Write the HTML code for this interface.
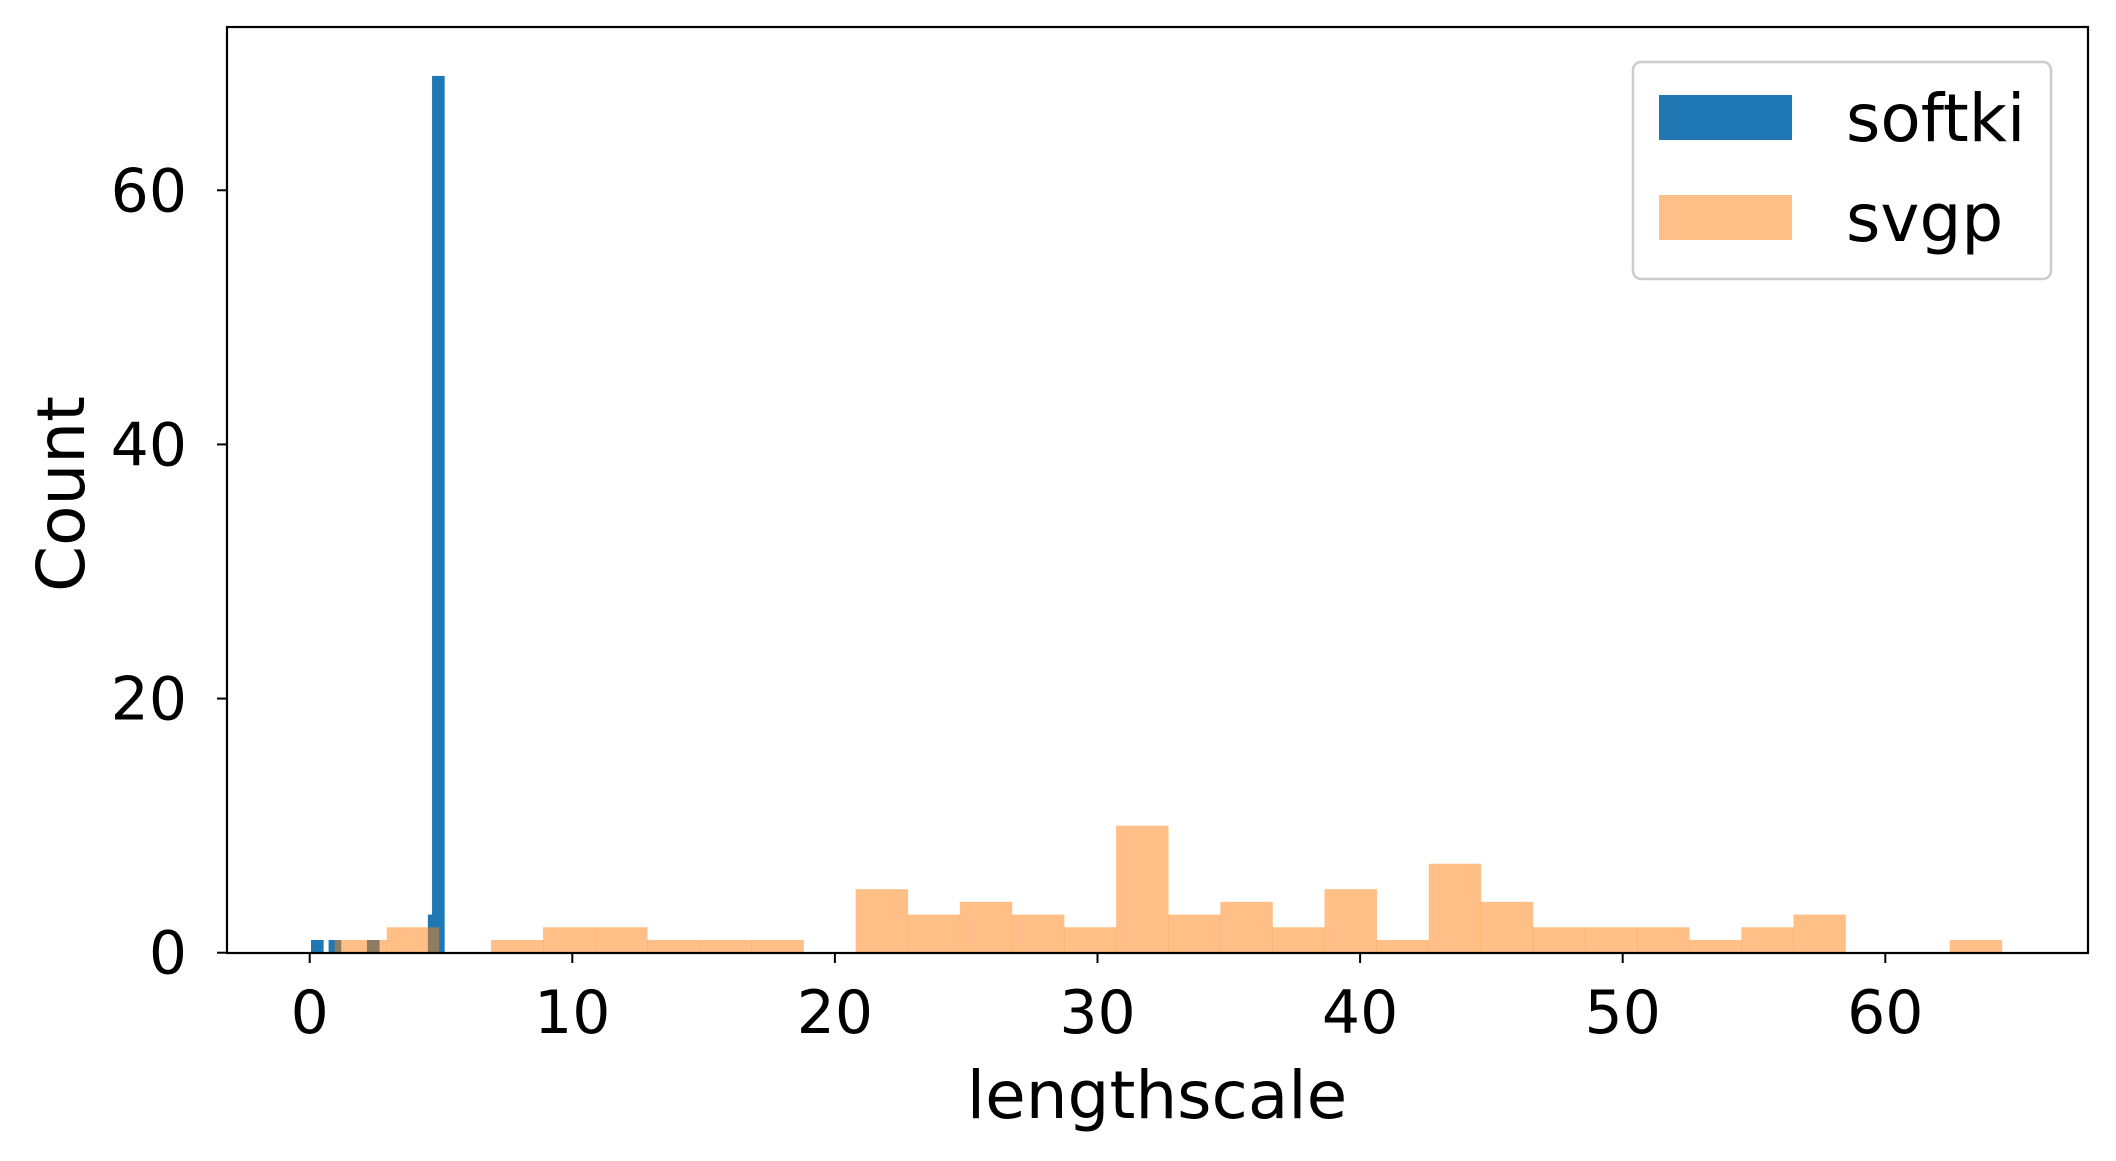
<!DOCTYPE html>
<html><head><meta charset="utf-8"><style>
html,body{margin:0;padding:0;background:#fff;}
svg{display:block;font-family:"DejaVu Sans","Liberation Sans",sans-serif;}
</style></head><body>
<svg id="chart" width="2116" height="1161" xmlns="http://www.w3.org/2000/svg">
<g id="bars"></g>
<g id="axes"></g>
<g id="legend">
<rect x="1633" y="62" width="418" height="217" rx="8" fill="#fff" fill-opacity="0.8" stroke="#ccc" stroke-width="2.5"/>
<rect x="1659" y="95" width="133" height="45" fill="#1f77b4"/>
<text x="1846" y="141" font-size="66">softki</text>
<rect x="1659" y="195" width="133" height="45" fill="#ff7f0e" fill-opacity="0.5"/>
<text x="1846" y="241" font-size="66">svgp</text>
</g>
</svg>
<script>
const softkiLefts = [0.05, 0.72, 2.18, 4.5, 4.66];
const softkiCounts = [1, 1, 1, 3, 69];
const softkiWidth = 0.48;
const svgpStart = 0.95;
const svgpWidth = 1.984;
const svgpCounts = [1,2,0,1,2,2,1,1,1,0,5,3,4,3,2,10,3,4,2,5,1,7,4,2,2,2,1,2,3,0,0,1];
const xTicks = [0,10,20,30,40,50,60];
const yTicks = [0,20,40,60];

const L=227,R=2088,T=27,B=953;
const xs=v=>309.7+v*26.26;
const ys=v=>952.7-v*12.707;
const NS="http://www.w3.org/2000/svg";
const bars=document.getElementById('bars');
const axes=document.getElementById('axes');
function mk(tag,attrs,parent){const e=document.createElementNS(NS,tag);for(const k in attrs)e.setAttribute(k,attrs[k]);parent.appendChild(e);return e;}

softkiLefts.forEach((l,i)=>{
  const c=softkiCounts[i];
  const r=mk('rect',{x:xs(l),y:ys(c),width:xs(l+softkiWidth)-xs(l),height:ys(0)-ys(c),fill:'#1f77b4'},bars);
  
  
});
svgpCounts.forEach((c,i)=>{
  if(!c)return;
  const l=svgpStart+i*svgpWidth;
  const r=mk('rect',{x:xs(l),y:ys(c),width:xs(l+svgpWidth)-xs(l)+0.3,height:ys(0)-ys(c),fill:'#ff7f0e','fill-opacity':0.5},bars);
  
  
});

const frame=mk('rect',{x:L,y:T,width:R-L,height:B-T,fill:'none',stroke:'#000','stroke-width':2.2},axes);


xTicks.forEach(v=>{
  const x=xs(v);
  const t=mk('line',{x1:x,x2:x,y1:B,y2:B+10,stroke:'#000','stroke-width':2},axes);
  
  
  const tx=mk('text',{x:x,y:1033,'font-size':60,'text-anchor':'middle'},axes);
  tx.textContent=v;
  
  
});
yTicks.forEach(v=>{
  const y=ys(v);
  const t=mk('line',{x1:L-10,x2:L,y1:y,y2:y,stroke:'#000','stroke-width':2},axes);
  
  
  const tx=mk('text',{x:187,y:y+21,'font-size':60,'text-anchor':'end'},axes);
  tx.textContent=v;
  
  
});
const xl=mk('text',{x:1157,y:1118,'font-size':66,'text-anchor':'middle'},axes);
xl.textContent='lengthscale';


const yl=mk('text',{x:0,y:0,'font-size':66,'text-anchor':'middle',transform:'translate(84,494) rotate(-90)'},axes);
yl.textContent='Count';


</script>
</body></html>
